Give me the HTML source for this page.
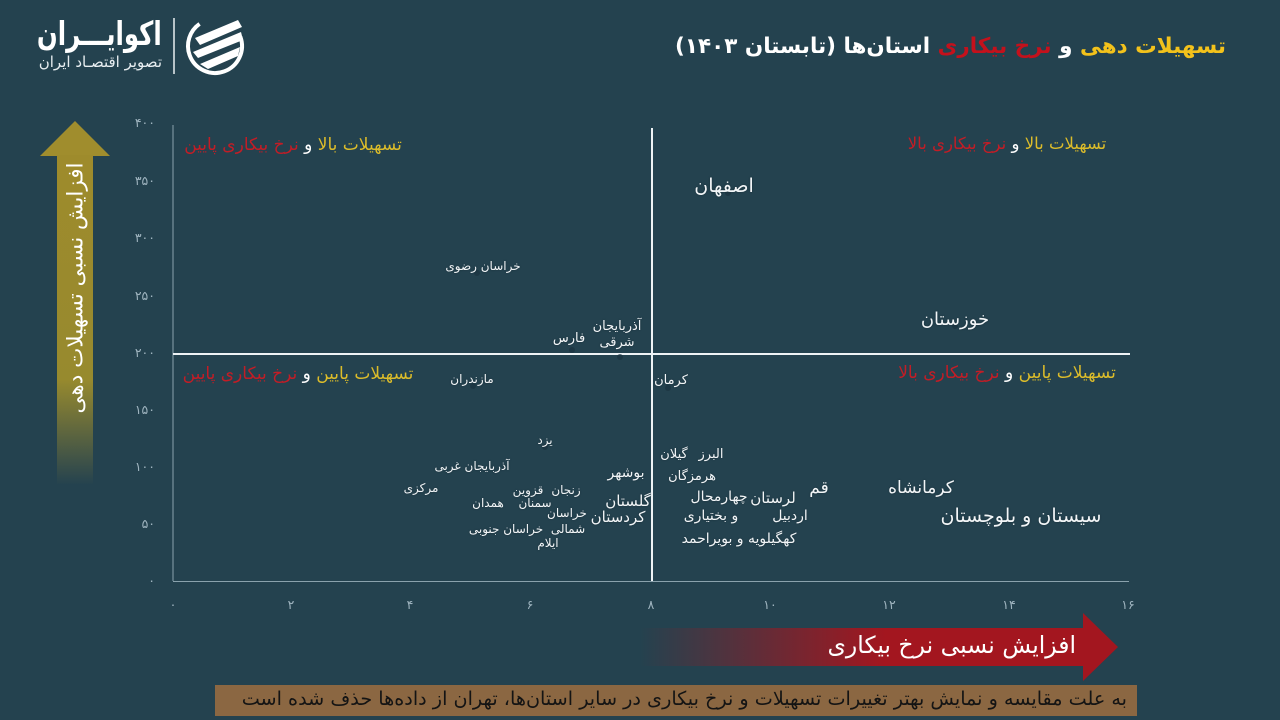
<!DOCTYPE html>
<html><head><meta charset="utf-8">
<style>
html,body{margin:0;padding:0}
body{width:1280px;height:720px;overflow:hidden;background:#24424f;position:relative;font-family:"DejaVu Sans","Liberation Sans",sans-serif}
svg{position:absolute;left:0;top:0}
.l{position:absolute;white-space:nowrap;line-height:1.3;color:#f2f5f7;transform:translateX(-50%);direction:rtl;text-shadow:0 0 2px rgba(0,0,0,.25)}
.r{position:absolute;white-space:nowrap;line-height:1.3;direction:rtl}
.y{color:#dcbc2a}.rd{color:#c21d26}.w{color:#fff}
.tk{position:absolute;color:#9fb4bf;font-size:12.5px;line-height:1;white-space:nowrap}
</style></head><body>
<svg width="1280" height="720" viewBox="0 0 1280 720">
<defs>
<linearGradient id="gy" x1="0" y1="0" x2="0" y2="1">
<stop offset="0" stop-color="#9e8b2c"/><stop offset="0.68" stop-color="#978a2e"/><stop offset="1" stop-color="#9a8a2e" stop-opacity="0"/>
</linearGradient>
<linearGradient id="gr" x1="0" y1="0" x2="1" y2="0">
<stop offset="0" stop-color="#a3161f" stop-opacity="0"/><stop offset="0.55" stop-color="#a3161f"/><stop offset="1" stop-color="#a3161f"/>
</linearGradient>
</defs>
<!-- logo -->
<line x1="174" y1="18" x2="174" y2="74" stroke="#e8eef1" stroke-width="1.5"/>
<circle cx="215" cy="46" r="27" fill="none" stroke="#fff" stroke-width="4" stroke-dasharray="120 50" transform="rotate(-20 215 46)"/>
<polygon points="195,38 238,20 242,27 200,45" fill="#fff"/>
<polygon points="193,52 241,32 243,40 198,58" fill="#fff"/>
<polygon points="200,64 240,47 238,56 208,69" fill="#fff"/>
<!-- y arrow -->
<polygon points="40,156 75,121 110,156" fill="#a08d2d"/>
<rect x="57" y="155" width="36" height="330" fill="url(#gy)"/>
<!-- x arrow -->
<rect x="640" y="628" width="446" height="38" fill="url(#gr)"/>
<polygon points="1083,613 1118,647 1083,681" fill="#a3161f"/>
<!-- axes -->
<line x1="173" y1="125" x2="173" y2="581" stroke="#8aa2ad" stroke-width="1"/>
<line x1="173" y1="581.5" x2="1129" y2="581.5" stroke="#8aa2ad" stroke-width="1"/>
<line x1="652" y1="128" x2="652" y2="581" stroke="#eef3f6" stroke-width="2"/>
<line x1="173" y1="354" x2="1130" y2="354" stroke="#eef3f6" stroke-width="2"/>
<!-- markers -->
<g fill="#1b3340" opacity="0.7">
<circle cx="477" cy="273" r="3"/><circle cx="572" cy="350" r="3"/><circle cx="620" cy="357" r="3"/>
<circle cx="473" cy="386" r="3"/><circle cx="545" cy="447" r="3"/><circle cx="728" cy="193" r="3"/>
<circle cx="955" cy="326" r="3"/><circle cx="668" cy="388" r="3"/>
</g>
<!-- banner -->
<rect x="215" y="685" width="922" height="31" fill="#8b6742"/>
</svg>

<!-- logo text -->
<div class="r w" style="right:1118px;top:14px;font-size:33px;font-weight:bold;line-height:1.2;transform:scaleX(0.74);transform-origin:right center">اکوایـــران</div>
<div class="r w" style="right:1118px;top:53px;font-size:15px;color:#e8eef1">تصویر اقتصـاد ایران</div>

<!-- title -->
<div class="r" style="right:54px;top:33px;font-size:21.5px;font-weight:bold;line-height:1.3"><span class="y" style="color:#f3c21b">تسهیلات دهی</span> <span class="w">و</span> <span class="rd" style="color:#c4111c">نرخ بیکاری</span> <span class="w">استان‌ها (تابستان ۱۴۰۳)</span></div>

<!-- y axis label -->
<div style="position:absolute;left:76px;top:288px;transform:translate(-50%,-50%) rotate(-90deg);white-space:nowrap;color:#fff;font-size:21.5px;direction:rtl;line-height:1">افزایش نسبی تسهیلات دهی</div>

<!-- x axis label -->
<div class="r w" style="right:204px;top:630px;font-size:23.5px;line-height:1.3">افزایش نسبی نرخ بیکاری</div>

<!-- banner text -->
<div class="r" style="right:153px;top:687px;font-size:19.2px;color:#141414;line-height:1.3">به علت مقایسه و نمایش بهتر تغییرات تسهیلات و نرخ بیکاری در سایر استان‌ها، تهران از داده‌ها حذف شده است</div>

<!-- y ticks -->
<div class="tk" style="right:1125px;top:117px">۴۰۰</div>
<div class="tk" style="right:1125px;top:175px">۳۵۰</div>
<div class="tk" style="right:1125px;top:232px">۳۰۰</div>
<div class="tk" style="right:1125px;top:290px">۲۵۰</div>
<div class="tk" style="right:1125px;top:347px">۲۰۰</div>
<div class="tk" style="right:1125px;top:404px">۱۵۰</div>
<div class="tk" style="right:1125px;top:461px">۱۰۰</div>
<div class="tk" style="right:1125px;top:518px">۵۰</div>
<div class="tk" style="right:1125px;top:575px">۰</div>
<!-- x ticks -->
<div class="tk" style="left:173px;top:599px;transform:translateX(-50%)">۰</div>
<div class="tk" style="left:291px;top:599px;transform:translateX(-50%)">۲</div>
<div class="tk" style="left:410px;top:599px;transform:translateX(-50%)">۴</div>
<div class="tk" style="left:530px;top:599px;transform:translateX(-50%)">۶</div>
<div class="tk" style="left:651px;top:599px;transform:translateX(-50%)">۸</div>
<div class="tk" style="left:770px;top:599px;transform:translateX(-50%)">۱۰</div>
<div class="tk" style="left:889px;top:599px;transform:translateX(-50%)">۱۲</div>
<div class="tk" style="left:1009px;top:599px;transform:translateX(-50%)">۱۴</div>
<div class="tk" style="left:1128px;top:599px;transform:translateX(-50%)">۱۶</div>

<!-- quadrant labels -->
<div class="l" style="left:293px;top:134px;font-size:17px;text-shadow:none"><span class="y">تسهیلات بالا</span> <span class="w">و</span> <span class="rd">نرخ بیکاری پایین</span></div>
<div class="l" style="left:1007px;top:133px;font-size:16.5px;text-shadow:none"><span class="y">تسهیلات بالا</span> <span class="w">و</span> <span class="rd">نرخ بیکاری بالا</span></div>
<div class="l" style="left:298px;top:363px;font-size:17px;text-shadow:none"><span class="y">تسهیلات پایین</span> <span class="w">و</span> <span class="rd">نرخ بیکاری پایین</span></div>
<div class="l" style="left:1007px;top:362px;font-size:17px;text-shadow:none"><span class="y">تسهیلات پایین</span> <span class="w">و</span> <span class="rd">نرخ بیکاری بالا</span></div>

<!-- data labels -->
<div class="l" style="left:724px;top:174px;font-size:19px">اصفهان</div>
<div class="l" style="left:483px;top:259px;font-size:12px">خراسان رضوی</div>
<div class="l" style="left:617px;top:319px;font-size:13px">آذربایجان</div>
<div class="l" style="left:617px;top:335px;font-size:13px">شرقی</div>
<div class="l" style="left:569px;top:331px;font-size:13px">فارس</div>
<div class="l" style="left:955px;top:308px;font-size:18px">خوزستان</div>
<div class="l" style="left:472px;top:372px;font-size:12px">مازندران</div>
<div class="l" style="left:671px;top:373px;font-size:13px">کرمان</div>
<div class="l" style="left:545px;top:433px;font-size:12px">یزد</div>
<div class="l" style="left:472px;top:459px;font-size:12px">آذربایجان غربی</div>
<div class="l" style="left:421px;top:481px;font-size:12px">مرکزی</div>
<div class="l" style="left:566px;top:483px;font-size:12px">زنجان</div>
<div class="l" style="left:528px;top:483px;font-size:12px">قزوین</div>
<div class="l" style="left:535px;top:496px;font-size:12px">سمنان</div>
<div class="l" style="left:488px;top:496px;font-size:12px">همدان</div>
<div class="l" style="left:567px;top:506px;font-size:12px">خراسان</div>
<div class="l" style="left:568px;top:522px;font-size:12px">شمالی</div>
<div class="l" style="left:506px;top:522px;font-size:12px">خراسان جنوبی</div>
<div class="l" style="left:548px;top:536px;font-size:12px">ایلام</div>
<div class="l" style="left:626px;top:464px;font-size:14px">بوشهر</div>
<div class="l" style="left:628px;top:492px;font-size:15px">گلستان</div>
<div class="l" style="left:618px;top:508px;font-size:15px">کردستان</div>
<div class="l" style="left:711px;top:447px;font-size:13px">البرز</div>
<div class="l" style="left:674px;top:447px;font-size:13px">گیلان</div>
<div class="l" style="left:692px;top:469px;font-size:13px">هرمزگان</div>
<div class="l" style="left:819px;top:477px;font-size:17px">قم</div>
<div class="l" style="left:773px;top:489px;font-size:15px">لرستان</div>
<div class="l" style="left:719px;top:488px;font-size:14px">چهارمحال</div>
<div class="l" style="left:790px;top:507px;font-size:14px">اردبیل</div>
<div class="l" style="left:711px;top:507px;font-size:14px">و بختیاری</div>
<div class="l" style="left:739px;top:530px;font-size:14px">کهگیلویه و بویراحمد</div>
<div class="l" style="left:921px;top:477px;font-size:17px">کرمانشاه</div>
<div class="l" style="left:1021px;top:504px;font-size:19px">سیستان و بلوچستان</div>
</body></html>
